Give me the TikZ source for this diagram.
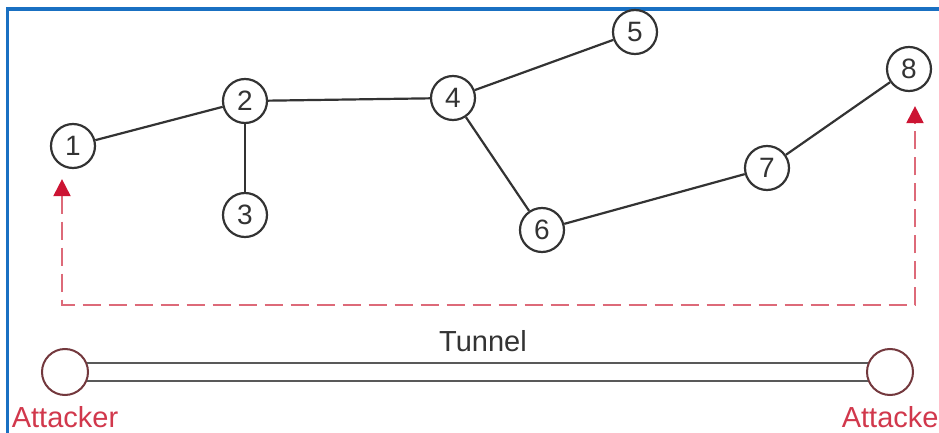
\documentclass[tikz,border=0pt]{standalone}
\usepackage{tikz}
\usetikzlibrary{calc}
\usetikzlibrary{arrows.meta,shapes,positioning}
\usepackage{fontspec}
\setmainfont{Liberation Sans}
\definecolor{frameblue}{rgb}{0.10,0.44,0.76}
\definecolor{attred}{rgb}{0.82,0.22,0.30}
\definecolor{tiprred}{rgb}{0.80,0.08,0.20}
\definecolor{tunnelrim}{rgb}{0.45,0.22,0.24}
\definecolor{edgegray}{rgb}{0.20,0.20,0.20}

\begin{document}
\begin{tikzpicture}[x=0.5pt,y=-0.5pt,
    router/.style={circle,draw=edgegray,line width=1.1pt,minimum size=22pt,inner sep=0pt,
      font=\fontsize{14}{16}\selectfont,text=black!80},
    link/.style={draw=edgegray,line width=1.1pt},
    attacker/.style={circle,draw=tunnelrim,line width=1pt,minimum size=23pt,inner sep=0pt,fill=white},
    attlabel/.style={text=attred,font=\fontsize{14.5}{16}\selectfont},
    dashline/.style={draw=attred!75,dashed,dash pattern=on 9pt off 4pt,line width=1pt,
      {Triangle[length=8.5pt,width=8.5pt,color=tiprred]}-{Triangle[length=8.5pt,width=8.5pt,color=tiprred]}}]
  \useasboundingbox (0,0) rectangle (939,433);
  \clip (0,0) rectangle (939,433);
  % frame
  \draw[frameblue,line width=1.6pt] (7.5,9) rectangle (990,480);

  % network
  \node[router] (n1) at (73,146)  {1};
  \node[router] (n2) at (245,101) {2};
  \node[router] (n3) at (245,215) {3};
  \node[router] (n4) at (453,98)  {4};
  \node[router] (n5) at (635,32)  {5};
  \node[router] (n6) at (542,230) {6};
  \node[router] (n7) at (767,168) {7};
  \node[router] (n8) at (909,69)  {8};
  \draw[link] (n1) -- (n2);
  \draw[link] (n2) -- (n3);
  \draw[link] (n2) -- (n4);
  \draw[link] (n4) -- (n5);
  \draw[link] (n4) -- (n6);
  \draw[link] (n6) -- (n7);
  \draw[link] (n7) -- (n8);

  % tunnel
  \node[attacker] (attL) at (65,372)  {};
  \node[attacker] (attR) at (890,372) {};
  \draw[link,draw=black!65,line width=1.2pt] (attL.22) -- (attR.158);
  \draw[link,draw=black!65,line width=1.2pt] (attL.-22) -- (attR.-158);
  \node[font=\fontsize{14.5}{16}\selectfont,text=black!80] (tun) at (483,341) {Tunnel};
  \node[attlabel,below=1.5pt of attL] (labL) {Attacker};
  \node[attlabel,below=1.5pt of attR,xshift=2.5pt] (labR) {Attacker};

  % path seen by the network
  \coordinate (tipL) at ($(n1.south)+(-11,10)$);
  \coordinate (tipR) at ($(n8.south)+(6,14)$);
  \coordinate (dashbot) at (0,305);
  \draw[dashline] (tipL) -- (tipL |- dashbot) -| (tipR);
\end{tikzpicture}
\end{document}
